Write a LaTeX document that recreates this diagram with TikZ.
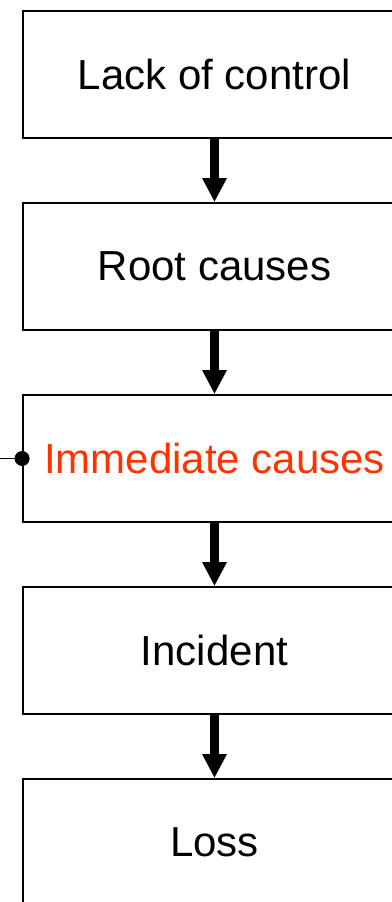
\documentclass[tikz,border=0pt]{standalone}
\usepackage{fontspec}
\setmainfont{Liberation Sans}
\usetikzlibrary{arrows.meta}
\definecolor{hazard}{RGB}{255,51,0}
\begin{document}
\begin{tikzpicture}[x=1pt,y=1pt,
  stagebox/.style={draw=black, line width=1.8pt, rectangle,
    minimum width=383pt, minimum height=127pt, inner sep=0pt,
    font=\fontsize{42}{48}\selectfont},
  flowarrow/.style={line width=9pt,
    -{Triangle[width=23pt,length=24pt]}}]
\useasboundingbox (0,0) rectangle (391,-902);
\node[stagebox] (n1) at (214.5,-74.5) {Lack of control};
\node[stagebox] (n2) at (214.5,-266.5) {Root causes};
\node[stagebox, text=hazard] (n3) at (214.5,-458.5) {Immediate causes};
\node[stagebox] (n4) at (214.5,-650.5) {Incident};
\node[stagebox] (n5) at (214.5,-842.5) {Loss};
\draw[flowarrow] (n1.south) -- (n2.north);
\draw[flowarrow] (n2.south) -- (n3.north);
\draw[flowarrow] (n3.south) -- (n4.north);
\draw[flowarrow] (n4.south) -- (n5.north);
\coordinate (feed) at (0,-458.5);
\draw[line width=1.8pt] (feed) -- (n3.west);
\fill (n3.west) circle (7.5pt);
\end{tikzpicture}
\end{document}
